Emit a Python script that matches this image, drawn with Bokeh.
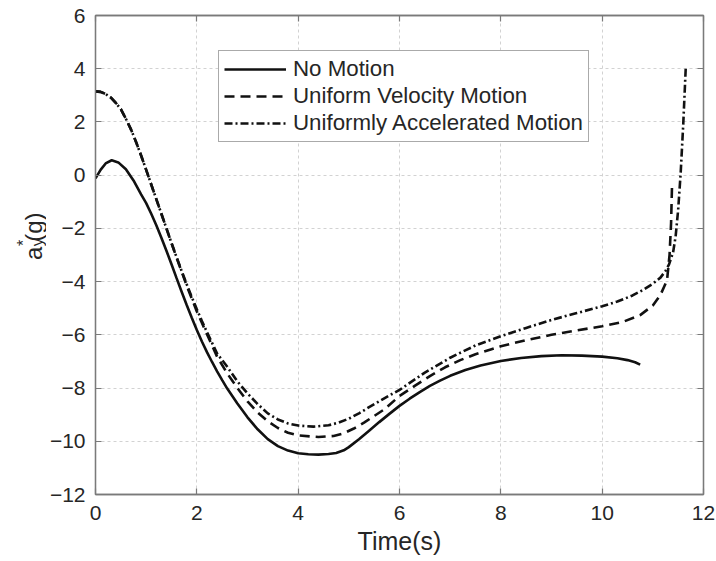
from math import pi

from bokeh.core.properties import value
from bokeh.embed import file_html
from bokeh.layouts import row
from bokeh.models import FixedTicker, Legend, LegendItem, LinearAxis, Range1d
from bokeh.plotting import figure
from bokeh.resources import INLINE

# Lateral acceleration a_y* (in g) versus time for three motion cases
t_none = [0.0, 0.1, 0.2, 0.32, 0.45, 0.6, 0.75, 0.9, 1.0, 1.1, 1.2, 1.3, 1.4, 1.5,
          1.6, 1.7, 1.8, 1.9, 2.0, 2.1, 2.2, 2.3, 2.4, 2.5, 2.6, 2.8, 3.0, 3.2,
          3.4, 3.6, 3.8, 4.0, 4.2, 4.4, 4.6, 4.75, 4.9, 5.0, 5.2, 5.4, 5.6, 5.8,
          6.0, 6.2, 6.4, 6.6, 6.8, 7.0, 7.3, 7.6, 8.0, 8.4, 8.8, 9.2, 9.6, 10.0,
          10.3, 10.5, 10.65, 10.75]
ay_none = [-0.12, 0.2, 0.44, 0.56, 0.48, 0.22, -0.2, -0.72, -1.05, -1.45, -1.88,
           -2.35, -2.84, -3.35, -3.87, -4.38, -4.88, -5.36, -5.82, -6.25, -6.65,
           -7.02, -7.37, -7.7, -8.02, -8.58, -9.1, -9.55, -9.92, -10.18, -10.35,
           -10.45, -10.49, -10.5, -10.48, -10.44, -10.34, -10.22, -9.92, -9.6,
           -9.28, -8.97, -8.67, -8.4, -8.15, -7.92, -7.72, -7.54, -7.32, -7.15,
           -6.98, -6.87, -6.8, -6.77, -6.78, -6.82, -6.88, -6.95, -7.03, -7.12]

t_uniform_vel = [0.0, 0.1, 0.2, 0.3, 0.4, 0.5, 0.6, 0.7, 0.8, 0.9, 1.0, 1.1, 1.2,
                 1.3, 1.4, 1.5, 1.6, 1.8, 2.0, 2.2, 2.4, 2.6, 2.8, 3.0, 3.2, 3.4,
                 3.6, 3.8, 4.0, 4.4, 4.7, 4.9, 5.1, 5.3, 5.5, 5.7, 6.0, 6.3, 6.6,
                 6.9, 7.2, 7.5, 7.8, 8.0, 8.5, 9.0, 9.5, 10.0, 10.4, 10.75, 11.0,
                 11.15, 11.28, 11.33, 11.36, 11.38]
ay_uniform_vel = [3.15, 3.13, 3.05, 2.92, 2.72, 2.48, 2.12, 1.72, 1.25, 0.74, 0.2,
                  -0.35, -0.9, -1.45, -2.0, -2.55, -3.1, -4.15, -5.12, -5.98,
                  -6.82, -7.45, -8.0, -8.5, -8.92, -9.25, -9.5, -9.68, -9.78,
                  -9.84, -9.8, -9.7, -9.52, -9.3, -9.05, -8.8, -8.3, -7.92, -7.55,
                  -7.22, -6.95, -6.73, -6.55, -6.43, -6.2, -6.0, -5.83, -5.68,
                  -5.52, -5.26, -4.9, -4.5, -3.95, -3.0, -1.8, -0.3]

t_uniform_acc = [0.0, 0.1, 0.2, 0.3, 0.4, 0.5, 0.6, 0.7, 0.8, 0.9, 1.0, 1.1, 1.2,
                 1.3, 1.4, 1.5, 1.6, 1.7, 1.8, 1.9, 2.0, 2.1, 2.2, 2.4, 2.6, 2.8,
                 3.0, 3.2, 3.4, 3.6, 3.8, 4.0, 4.3, 4.6, 4.8, 5.0, 5.2, 5.4, 5.6,
                 5.8, 6.0, 6.5, 7.0, 7.5, 8.0, 8.5, 9.0, 9.5, 10.0, 10.3, 10.6,
                 10.8, 11.0, 11.15, 11.25, 11.32, 11.4, 11.45, 11.5, 11.55, 11.6,
                 11.65]
ay_uniform_acc = [3.15, 3.13, 3.05, 2.92, 2.72, 2.48, 2.12, 1.72, 1.25, 0.74, 0.2,
                  -0.35, -0.9, -1.45, -2.0, -2.55, -3.08, -3.6, -4.1, -4.58,
                  -5.04, -5.48, -5.9, -6.7, -7.2, -7.75, -8.2, -8.6, -8.95,
                  -9.18, -9.33, -9.41, -9.45, -9.4, -9.3, -9.15, -8.95, -8.72,
                  -8.5, -8.28, -8.07, -7.42, -6.86, -6.4, -6.05, -5.74, -5.44,
                  -5.18, -4.93, -4.75, -4.52, -4.32, -4.08, -3.85, -3.6, -3.35,
                  -2.9, -2.3, -1.3, 0.1, 1.9, 4.05]

series_names = ["No Motion", "Uniform Velocity Motion", "Uniformly Accelerated Motion"]

x_ticks = [0, 2, 4, 6, 8, 10, 12]
y_ticks = [-12, -10, -8, -6, -4, -2, 0, 2, 4, 6]
x_tick_labels = {v: str(v) for v in x_ticks}
y_tick_labels = {v: str(v).replace("-", "\u2212") for v in y_ticks}

FONT = "Liberation Sans"
TEXT = "#262626"
FRAME = "#7a7a7a"
W, H = 716, 561
LABEL_W = 46          # strip that carries the rotated y-axis title

p = figure(width=W - LABEL_W, height=H, x_range=Range1d(0, 12), y_range=Range1d(-12, 6),
           output_backend="svg", toolbar_location=None,
           min_border_left=95 - LABEL_W, min_border_right=13, min_border_top=15,
           min_border_bottom=67, background_fill_color="white",
           border_fill_color="white")
p.outline_line_color = FRAME
p.outline_line_width = 1.3

# grid
p.xgrid.ticker = FixedTicker(ticks=x_ticks)
p.ygrid.ticker = FixedTicker(ticks=y_ticks)
p.grid.grid_line_color = "#d2d2d2"
p.grid.grid_line_dash = "3 3"
p.grid.grid_line_width = 1

# axes: labelled bottom/left, tick-only top/right
p.add_layout(LinearAxis(), "above")
p.add_layout(LinearAxis(), "right")
for ax in p.axis:
    ax.axis_line_color = FRAME
    ax.axis_line_width = 1.3
    ax.major_tick_line_color = FRAME
    ax.major_tick_line_width = 1.2
    ax.major_tick_in = 6
    ax.major_tick_out = 0
    ax.minor_tick_line_color = None
    ax.major_label_text_font = FONT
    ax.major_label_text_color = TEXT
    ax.major_label_text_font_size = "21px"

for ax in p.xaxis:
    ax.ticker = FixedTicker(ticks=x_ticks)
for ax in p.yaxis:
    ax.ticker = FixedTicker(ticks=y_ticks)

p.above[0].major_label_overrides = {v: "" for v in x_ticks}
p.above[0].major_label_standoff = 0
p.right[0].major_label_overrides = {v: "" for v in y_ticks}
p.right[0].major_label_standoff = 0

p.below[0].major_label_overrides = x_tick_labels
p.below[0].major_label_standoff = 11
p.below[0].axis_label = "Time(s)"
p.below[0].axis_label_text_font = FONT
p.below[0].axis_label_text_font_size = "25px"
p.below[0].axis_label_text_font_style = "normal"
p.below[0].axis_label_text_color = TEXT
p.below[0].axis_label_standoff = 4

p.left[0].major_label_overrides = y_tick_labels
p.left[0].major_label_standoff = 10

# curves
r_none = p.line(t_none, ay_none, line_color="#111111", line_width=2.6)
r_vel = p.line(t_uniform_vel, ay_uniform_vel, line_color="#111111", line_width=2.6,
               line_dash="10 6")
r_acc = p.line(t_uniform_acc, ay_uniform_acc, line_color="#111111", line_width=2.6,
               line_dash="8 3 2 3")

legend = Legend(items=[LegendItem(label=series_names[0], renderers=[r_none]),
                       LegendItem(label=series_names[1], renderers=[r_vel]),
                       LegendItem(label=series_names[2], renderers=[r_acc])],
                location=(123, 352))
legend.label_text_font = FONT
legend.label_text_font_size = "22.3px"
legend.label_text_color = TEXT
legend.glyph_width = 62
legend.glyph_height = 20
legend.label_height = 20
legend.label_standoff = 7
legend.spacing = 1
legend.padding = 5
legend.margin = 0
legend.border_line_color = "#555555"
legend.border_line_width = 1.3
legend.background_fill_color = "white"
legend.background_fill_alpha = 1.0
p.add_layout(legend, "center")

# y-axis title a_y^*(g): rotated pieces in a pixel-scaled strip left of the plot.
# Each piece is anchored at its upper end so that it grows downwards on screen.
q = figure(width=LABEL_W, height=H, x_range=Range1d(0, LABEL_W), y_range=Range1d(0, H),
           output_backend="svg", toolbar_location=None, x_axis_type=None,
           y_axis_type=None, min_border=0, background_fill_color="white",
           border_fill_color="white")
q.outline_line_color = None
q.grid.visible = False
title_style = dict(angle=pi / 2, text_font=value(FONT), text_color=TEXT,
                   text_align="right", text_baseline="alphabetic")
q.text(x=[32.5, 32.5], y=[H - 270.6, H - 230.7], text=["a", "(g)"],
       text_font_size="24px", **title_style)
q.text(x=[37, 22.5], y=[H - 261, H - 262.8], text=["y", "*"], text_font_size="16px",
       **title_style)

layout = row(q, p)
open("out.html", "w").write(file_html(layout, INLINE))
